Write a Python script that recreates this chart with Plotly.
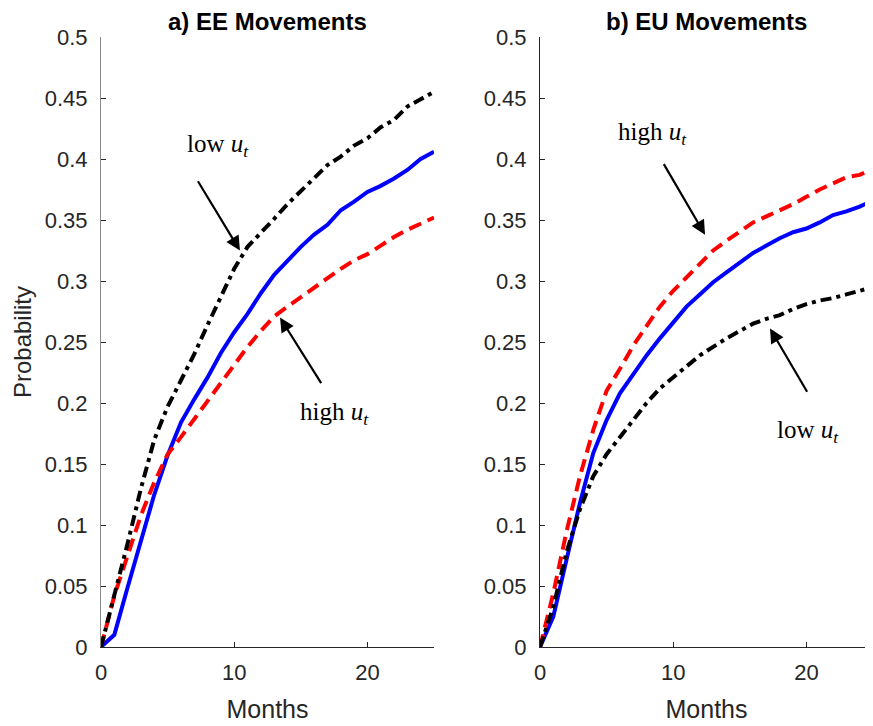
import plotly.graph_objects as go

months = list(range(26))

# Panel a) EE movements
ee_low = [0, 0.041, 0.085, 0.130, 0.170, 0.197, 0.219, 0.240, 0.264, 0.287, 0.310, 0.328, 0.339,
          0.351, 0.363, 0.374, 0.385, 0.395, 0.402, 0.411, 0.417, 0.426, 0.432, 0.443, 0.449, 0.455]
ee_avg = [0, 0.010, 0.049, 0.088, 0.125, 0.157, 0.184, 0.203, 0.221, 0.241, 0.258, 0.273, 0.290,
          0.305, 0.317, 0.328, 0.338, 0.346, 0.358, 0.365, 0.373, 0.378, 0.384, 0.391, 0.400, 0.406]
ee_high = [0, 0.042, 0.075, 0.108, 0.135, 0.158, 0.172, 0.187, 0.202, 0.216, 0.232, 0.246, 0.259,
           0.271, 0.279, 0.287, 0.294, 0.303, 0.310, 0.317, 0.322, 0.329, 0.336, 0.342, 0.347, 0.352]

# Panel b) EU movements
eu_low = [0, 0.033, 0.078, 0.113, 0.140, 0.158, 0.172, 0.186, 0.200, 0.212, 0.221, 0.230, 0.239,
          0.246, 0.253, 0.259, 0.265, 0.269, 0.272, 0.277, 0.281, 0.284, 0.286, 0.289, 0.292, 0.295]
eu_avg = [0, 0.025, 0.072, 0.118, 0.159, 0.186, 0.208, 0.224, 0.239, 0.253, 0.266, 0.279, 0.289,
          0.299, 0.307, 0.315, 0.323, 0.329, 0.335, 0.340, 0.343, 0.348, 0.354, 0.357, 0.361, 0.366]
eu_high = [0, 0.044, 0.095, 0.140, 0.178, 0.210, 0.228, 0.247, 0.263, 0.279, 0.292, 0.303, 0.315,
           0.325, 0.333, 0.341, 0.348, 0.353, 0.358, 0.363, 0.369, 0.375, 0.380, 0.385, 0.387, 0.392]

y_ticks = [0, 0.05, 0.1, 0.15, 0.2, 0.25, 0.3, 0.35, 0.4, 0.45, 0.5]
y_tick_labels = ["0", "0.05", "0.1", "0.15", "0.2", "0.25", "0.3", "0.35", "0.4", "0.45", "0.5"]
x_ticks = [0, 10, 20]
x_tick_labels = ["0", "10", "20"]

titles = ["a) EE Movements", "b) EU Movements"]

OFF = 8  # page body margin
W, H = 873 - OFF, 726 - OFF
fig = go.Figure()

styles = [
    ("#0000ff", "solid"),
    ("#ff0000", "13px,7px"),
    ("#000000", "11px,5px,4px,5px"),
]

panels = [(ee_avg, ee_high, ee_low), (eu_avg, eu_high, eu_low)]
for i, series in enumerate(panels):
    xa = "x" if i == 0 else "x2"
    ya = "y" if i == 0 else "y2"
    for vals, (col, dash) in zip(series, styles):
        fig.add_trace(go.Scatter(x=months, y=vals, mode="lines", xaxis=xa, yaxis=ya,
                                 line=dict(color=col, width=4, dash=dash),
                                 showlegend=False, hoverinfo="skip"))

axis_font = dict(family="Liberation Sans, Arial, sans-serif", size=22, color="#262626")
common_x = dict(range=[0, 25], tickvals=x_ticks, ticktext=x_tick_labels, showgrid=False,
                zeroline=False, showline=True, linecolor="#262626", linewidth=1,
                ticks="inside", ticklen=5, tickcolor="#262626", tickfont=axis_font,
                ticklabelstandoff=6, automargin=False)
common_y = dict(range=[0, 0.5], tickvals=y_ticks, ticktext=y_tick_labels, showgrid=False,
                zeroline=False, showline=True, linecolor="#262626", linewidth=1,
                ticks="inside", ticklen=5, tickcolor="#262626", tickfont=axis_font,
                ticklabelstandoff=8, automargin=False)

d1 = [(101 - OFF) / W, (434 - OFF) / W]
d2 = [(540 - OFF) / W, 1.0]
top = 37 - OFF
bottom = H - (647 - OFF)
plot_h = H - top - bottom

xt_font = dict(family="Liberation Sans, Arial", size=25, color="#262626")
fig.update_layout(
    width=W, height=H, autosize=False,
    margin=dict(l=0, r=0, t=top, b=bottom),
    paper_bgcolor="white", plot_bgcolor="white",
    xaxis=dict(domain=d1, anchor="y", **common_x,
               title=dict(text="Months", font=xt_font, standoff=16)),
    yaxis=dict(domain=[0, 1], anchor="x", **common_y,
               title=dict(text="Probability", font=dict(family="Liberation Sans, Arial", size=24, color="#262626"), standoff=6)),
    xaxis2=dict(domain=d2, anchor="y2", **common_x,
                title=dict(text="Months", font=xt_font, standoff=16)),
    yaxis2=dict(domain=[0, 1], anchor="x2", **common_y),
)
fig.layout.yaxis.linecolor = "#8a8a8a"

# titles
for t, d in zip(titles, [d1, d2]):
    fig.add_annotation(text="<b>%s</b>" % t, xref="paper", yref="paper",
                       x=(d[0] + d[1]) / 2, y=1 + 16 / plot_h, showarrow=False,
                       xanchor="center", yanchor="middle",
                       font=dict(family="Liberation Sans, Arial", size=24, color="#000000"))

serif = dict(family="Liberation Serif, DejaVu Serif, serif", size=25, color="#000000")
low_lbl = "low <i>u<sub>t</sub></i>"
high_lbl = "high <i>u<sub>t</sub></i>"

# (label, text x, text y, tail x, tail y, tip x, tip y, axis)
notes = [
    (low_lbl, 8.78, 0.411, 7.21, 0.383, 10.43, 0.325, "1"),
    (high_lbl, 17.5, 0.191, 16.6, 0.215, 13.44, 0.270, "1"),
    (high_lbl, 8.48, 0.421, 9.23, 0.397, 12.39, 0.338, "2"),
    (low_lbl, 20.12, 0.177, 20.12, 0.208, 17.27, 0.261, "2"),
]
for lbl, tx, ty, ax_, ay_, hx, hy, k in notes:
    xr = "x" if k == "1" else "x2"
    yr = "y" if k == "1" else "y2"
    fig.add_annotation(text=lbl, x=tx, y=ty, xref=xr, yref=yr, showarrow=False,
                       xanchor="center", yanchor="middle", font=serif)
    fig.add_annotation(text="", x=hx, y=hy, xref=xr, yref=yr, ax=ax_, ay=ay_,
                       axref=xr, ayref=yr, showarrow=True, arrowhead=2, arrowsize=1.3,
                       arrowwidth=2.2, arrowcolor="#000000")

fig.write_html("out.html")
